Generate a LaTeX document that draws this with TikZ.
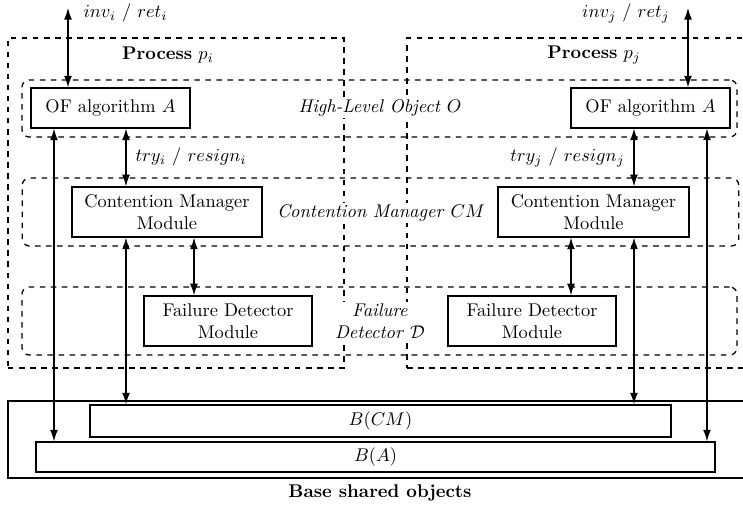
\documentclass[tikz,border=0pt]{standalone}
\usetikzlibrary{arrows.meta}
\begin{document}
\begin{tikzpicture}[x=0.0191cm,y=-0.0191cm,
  module/.style={draw,thick,fill=white,align=center,inner sep=0pt},
  region/.style={draw,line width=0.7pt,dashed,rounded corners=4pt,inner sep=0pt},
  proc/.style={draw,line width=0.7pt,dashed,inner sep=0pt},
  tag/.style={fill=white,inner sep=1pt,align=center},
  link/.style={semithick,{Latex[length=2.2mm,width=1.5mm]}-{Latex[length=2.2mm,width=1.5mm]}}]
\useasboundingbox (0,0) rectangle (743,510);
% layers across both processes
\node[region,minimum width=13.66cm,minimum height=1.09cm] (hlo) at (379.5,108.5) {};
\node[region,minimum width=13.69cm,minimum height=1.30cm] (cmr) at (380.5,212) {};
\node[region,minimum width=13.66cm,minimum height=1.30cm] (fdr) at (379.5,321) {};
% processes
\node[proc,minimum width=6.42cm,minimum height=6.30cm] (pi) at (176,203) {};
\node[proc,minimum width=6.59cm,minimum height=6.30cm] (pj) at (579.5,203) {};
\node (pit) at (168,55) {\textbf{Process} $p_i$};
\node (pjt) at (594,55) {\textbf{Process} $p_j$};
\node[tag] (hlot) at (380,108) {\textit{High-Level Object} $O$};
\node[tag] (cmt) at (381,213) {\textit{Contention Manager} $CM$};
\node[tag] (fdt) at (380,321) {\textit{Failure}\\\textit{Detector} $\mathcal{D}$};
% modules
\node[module,minimum width=3.04cm,minimum height=0.76cm] (ofi) at (110.5,108) {OF algorithm $A$};
\node[module,minimum width=3.04cm,minimum height=0.76cm] (ofj) at (650.5,108) {OF algorithm $A$};
\node[module,minimum width=3.63cm,minimum height=0.955cm] (cmi) at (167,212) {Contention Manager\\Module};
\node[module,minimum width=3.65cm,minimum height=0.955cm] (cmj) at (593.5,212) {Contention Manager\\Module};
\node[module,minimum width=3.21cm,minimum height=0.955cm] (fdi) at (228,321) {Failure Detector\\Module};
\node[module,minimum width=3.21cm,minimum height=0.955cm] (fdj) at (532,321) {Failure Detector\\Module};
% base shared objects
\node[draw,thick,minimum width=14.21cm,minimum height=1.47cm] (base) at (380,439.5) {};
\node[module,minimum width=11.1cm,minimum height=0.61cm] (bcm) at (380.5,421) {$B(CM)$};
\node[module,minimum width=12.97cm,minimum height=0.57cm] (ba) at (375.5,457) {$B(A)$};
\node (baset) at (380,493) {\textbf{Base shared objects}};
% invocations
\coordinate (ti) at (68,8);
\coordinate (tj) at (688,8);
\draw[link] (ti) -- (ti |- ofi.north);
\draw[link] (tj) -- (tj |- ofj.north);
\node[anchor=west] (invi) at (77,13) {$inv_i$ / $ret_i$};
\node[anchor=east] (invj) at (676,13) {$inv_j$ / $ret_j$};
% columns of the links
\coordinate (a1) at (54,0);
\coordinate (a2) at (126,0);
\coordinate (a3) at (194,0);
\coordinate (a4) at (571,0);
\coordinate (a5) at (634,0);
\coordinate (a6) at (707,0);
\draw[link] (ofi.south -| a2) -- (cmi.north -| a2);
\draw[link] (cmi.south -| a2) -- (bcm.north -| a2);
\draw[link] (cmi.south -| a3) -- (fdi.north -| a3);
\draw[link] (ofi.south -| a1) -- (ba.north -| a1);
\draw[link] (ofj.south -| a5) -- (cmj.north -| a5);
\draw[link] (cmj.south -| a5) -- (bcm.north -| a5);
\draw[link] (cmj.south -| a4) -- (fdj.north -| a4);
\draw[link] (ofj.south -| a6) -- (ba.north -| a6);
\node[anchor=west] (tryi) at (129,157) {$try_i$ / $resign_i$};
\node[anchor=east] (tryj) at (631,157) {$try_j$ / $resign_j$};
\end{tikzpicture}
\end{document}
